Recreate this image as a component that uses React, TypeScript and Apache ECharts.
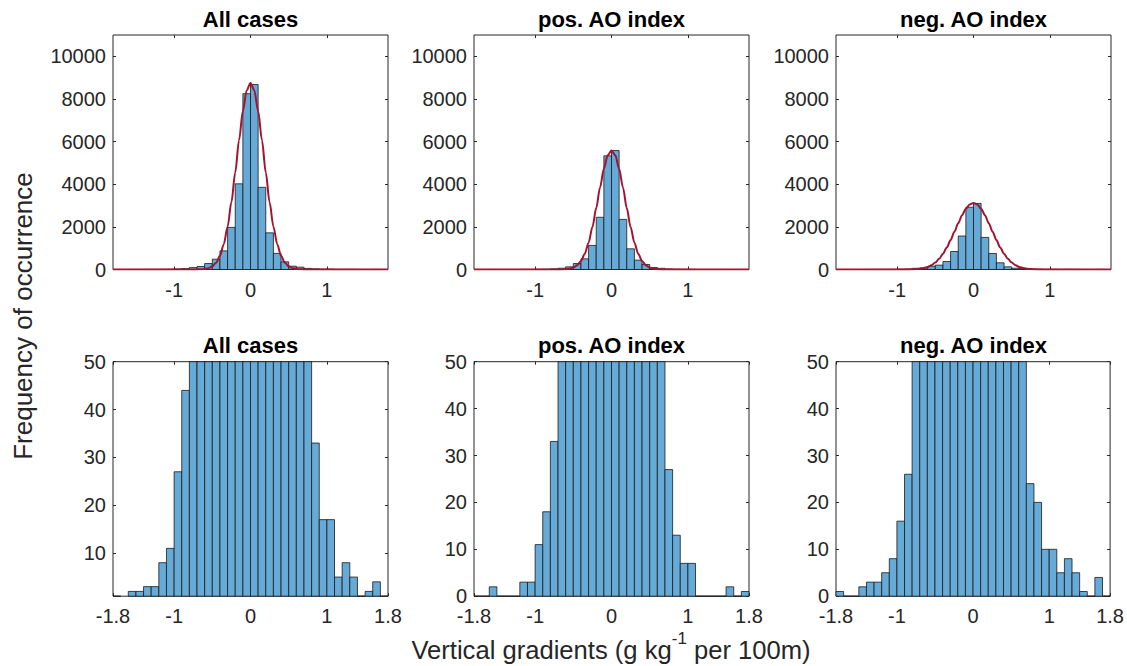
import React, { useEffect, useRef } from 'react';
import * as echarts from 'echarts';

// ---- data ----
const binStarts = [-1.8, -1.7, -1.6, -1.5, -1.4, -1.3, -1.2, -1.1, -1.0, -0.9, -0.8, -0.7, -0.6, -0.5, -0.4, -0.3, -0.2, -0.1,
  0.0, 0.1, 0.2, 0.3, 0.4, 0.5, 0.6, 0.7, 0.8, 0.9, 1.0, 1.1, 1.2, 1.3, 1.4, 1.5, 1.6, 1.7];
const binWidth = 0.1;

const allCounts = [1, 0, 2, 2, 3, 3, 8, 11, 27, 44, 88, 140, 280, 485, 875, 1975, 4020, 8250,
  8680, 3855, 1720, 755, 360, 155, 110, 51, 33, 17, 17, 5, 8, 5, 1, 2, 4, 1];
const posCounts = [0, 0, 2, 0, 0, 0, 3, 3, 11, 18, 33, 60, 125, 280, 500, 1130, 2450, 5330,
  5580, 2350, 970, 440, 235, 95, 55, 27, 13, 7, 7, 0, 0, 0, 0, 2, 0, 1];
const negCounts = [1, 0, 0, 2, 3, 3, 5, 8, 16, 26, 55, 80, 155, 205, 375, 845, 1570, 2920,
  3100, 1505, 750, 315, 125, 60, 55, 24, 20, 10, 10, 5, 8, 5, 1, 0, 4, 0];

const curveX = [-1.8, -1.0, -0.9, -0.8, -0.7, -0.65, -0.6, -0.55, -0.5, -0.45, -0.4, -0.35, -0.3, -0.25, -0.2, -0.15, -0.1, -0.05,
  0, 0.05, 0.1, 0.15, 0.2, 0.25, 0.3, 0.35, 0.4, 0.45, 0.5, 0.55, 0.6, 0.65, 0.7, 0.8, 0.9, 1.0, 1.8];
const allFit = [0, 0, 0, 0, 3, 9, 24, 63, 148, 320, 640, 1185, 2010, 3150, 4550, 6060, 7430, 8400,
  8750, 8400, 7430, 6060, 4550, 3150, 2010, 1185, 640, 320, 148, 63, 24, 9, 3, 0, 0, 0, 0];
const posFit = [0, 0, 0, 0, 2, 5, 15, 38, 90, 197, 400, 740, 1260, 1990, 2880, 3850, 4730, 5355,
  5580, 5355, 4730, 3850, 2880, 1990, 1260, 740, 400, 197, 90, 38, 15, 5, 2, 0, 0, 0, 0];
const negFit = [0, 0, 2, 9, 37, 68, 120, 202, 324, 499, 733, 1030, 1380, 1770, 2170, 2545, 2850, 3050,
  3120, 3050, 2850, 2545, 2170, 1770, 1380, 1030, 733, 499, 324, 202, 120, 68, 37, 9, 2, 0, 0];

const panelTitles = ['All cases', 'pos. AO index', 'neg. AO index'];
const topXTicks = [-1, 0, 1];
const bottomXTicks = [-1.8, -1, 0, 1, 1.8];
const topYTicks = [0, 2000, 4000, 6000, 8000, 10000];
const bottomYTicks = [0, 10, 20, 30, 40, 50];
const bottomYTicksAll = [10, 20, 30, 40, 50];
const xLabelMain1 = 'Vertical gradients (g kg';
const xLabelSup = '-1';
const xLabelMain2 = ' per 100m)';
const yLabel = 'Frequency of occurrence';

// ---- style ----
const FONT = 'Liberation Sans, Arial, Helvetica, sans-serif';
const AX = '#262626';
const BAR_FILL = '#66AAD7';
const BAR_EDGE = '#1a1a1a';
const FIT = '#A2142F';
const LEFTS = [113, 474, 836];
const TOPS = [35, 361.7];
const W = 275;
const H = 234.5;

export default function App() {
  const ref = useRef<HTMLDivElement>(null);
  useEffect(() => {
    if (!ref.current) return;
    const chart = echarts.init(ref.current, null, { renderer: 'svg' });
    const counts = [allCounts, posCounts, negCounts];
    const fits = [allFit, posFit, negFit];

    const grids: any[] = [];
    const xAxes: any[] = [];
    const yAxes: any[] = [];
    const series: any[] = [];
    const graphics: any[] = [];

    for (let r = 0; r < 2; r++) {
      for (let c = 0; c < 3; c++) {
        const gi = r * 3 + c;
        grids.push({
          left: LEFTS[c], top: TOPS[r], width: W, height: H,
          show: true, borderColor: AX, borderWidth: 1, backgroundColor: '#fff',
        });
        const xt = r === 0 ? topXTicks : bottomXTicks;
        const yMin = r === 0 ? 0 : (c === 0 ? 1 : 0);
        const yMax = r === 0 ? 11000 : 50;
        const yt = r === 0 ? topYTicks : (c === 0 ? bottomYTicksAll : bottomYTicks);
        const tickStyle = { color: AX, width: 1 };
        xAxes.push({
          gridIndex: gi, type: 'value', min: -1.8, max: 1.8, position: 'bottom',
          axisLine: { show: false, onZero: false },
          axisTick: { show: true, inside: true, length: 3, customValues: xt, lineStyle: tickStyle },
          axisLabel: {
            show: true, customValues: xt, margin: 10, fontSize: 20, color: AX, fontFamily: FONT,
            formatter: (v: number) => String(v),
          },
          splitLine: { show: false },
        });
        xAxes.push({
          gridIndex: gi, type: 'value', min: -1.8, max: 1.8, position: 'top',
          axisLine: { show: false, onZero: false },
          axisTick: { show: true, inside: true, length: 3, customValues: xt, lineStyle: tickStyle },
          axisLabel: { show: false },
          splitLine: { show: false },
        });
        yAxes.push({
          gridIndex: gi, type: 'value', min: yMin, max: yMax, position: 'left',
          axisLine: { show: false, onZero: false },
          axisTick: { show: true, inside: true, length: 3, customValues: yt, lineStyle: tickStyle },
          axisLabel: {
            show: true, customValues: yt, margin: 7, fontSize: 20, color: AX, fontFamily: FONT,
            formatter: (v: number) => String(v),
          },
          splitLine: { show: false },
        });
        yAxes.push({
          gridIndex: gi, type: 'value', min: yMin, max: yMax, position: 'right',
          axisLine: { show: false, onZero: false },
          axisTick: { show: true, inside: true, length: 3, customValues: yt, lineStyle: tickStyle },
          axisLabel: { show: false },
          splitLine: { show: false },
        });

        const cnt = counts[c];
        series.push({
          type: 'custom',
          xAxisIndex: 2 * gi,
          yAxisIndex: 2 * gi,
          data: binStarts.map((b, i) => [b, +(b + binWidth).toFixed(2), cnt[i]]),
          encode: { x: [0, 1], y: 2 },
          renderItem: (params: any, api: any) => {
            const p0 = api.coord([api.value(0), api.value(2)]);
            const p1 = api.coord([api.value(1), 0]);
            const cs = params.coordSys;
            const rect = echarts.graphic.clipRectByRect(
              { x: p0[0], y: p0[1], width: p1[0] - p0[0], height: p1[1] - p0[1] },
              { x: cs.x, y: cs.y, width: cs.width, height: cs.height }
            );
            if (!rect) return null;
            return {
              type: 'rect',
              shape: rect,
              style: { fill: BAR_FILL, stroke: BAR_EDGE, lineWidth: 0.8 },
            };
          },
          z: 2,
        });
        if (r === 0) {
          const f = fits[c];
          series.push({
            type: 'line',
            xAxisIndex: 2 * gi,
            yAxisIndex: 2 * gi,
            data: curveX.map((x, i) => [x, f[i]]),
            showSymbol: false,
            smooth: 0.3,
            smoothMonotone: 'x',
            lineStyle: { color: FIT, width: 2 },
            clip: true,
            z: 3,
          });
        }
        graphics.push({
          type: 'text',
          x: LEFTS[c] + W / 2,
          y: r === 0 ? 19 : 345,
          style: {
            text: panelTitles[c], fontSize: 22, fontWeight: 'bold', fontFamily: FONT,
            fill: '#000', align: 'center', verticalAlign: 'middle',
          },
        });
      }
    }

    graphics.push({
      type: 'text',
      x: 611,
      y: 650,
      style: {
        text: `{a|${xLabelMain1}}{s|${xLabelSup}}{a|${xLabelMain2}}`,
        align: 'center',
        verticalAlign: 'middle',
        rich: {
          a: { fontSize: 25.6, fontFamily: FONT, fill: AX, lineHeight: 40 },
          s: { fontSize: 17, fontFamily: FONT, fill: AX, lineHeight: 17, verticalAlign: 'top' },
        },
      },
    });
    graphics.push({
      type: 'text',
      x: 23,
      y: 316,
      rotation: Math.PI / 2,
      style: {
        text: yLabel, fontSize: 26, fontFamily: FONT, fill: AX,
        align: 'center', verticalAlign: 'middle',
      },
    });

    chart.setOption({
      animation: false,
      backgroundColor: '#fff',
      grid: grids,
      xAxis: xAxes,
      yAxis: yAxes,
      series,
      graphic: graphics,
    });
    return () => chart.dispose();
  }, []);
  return <div ref={ref} style={{ position: 'absolute', left: 0, top: 0, width: 1127, height: 666 }} />;
}
